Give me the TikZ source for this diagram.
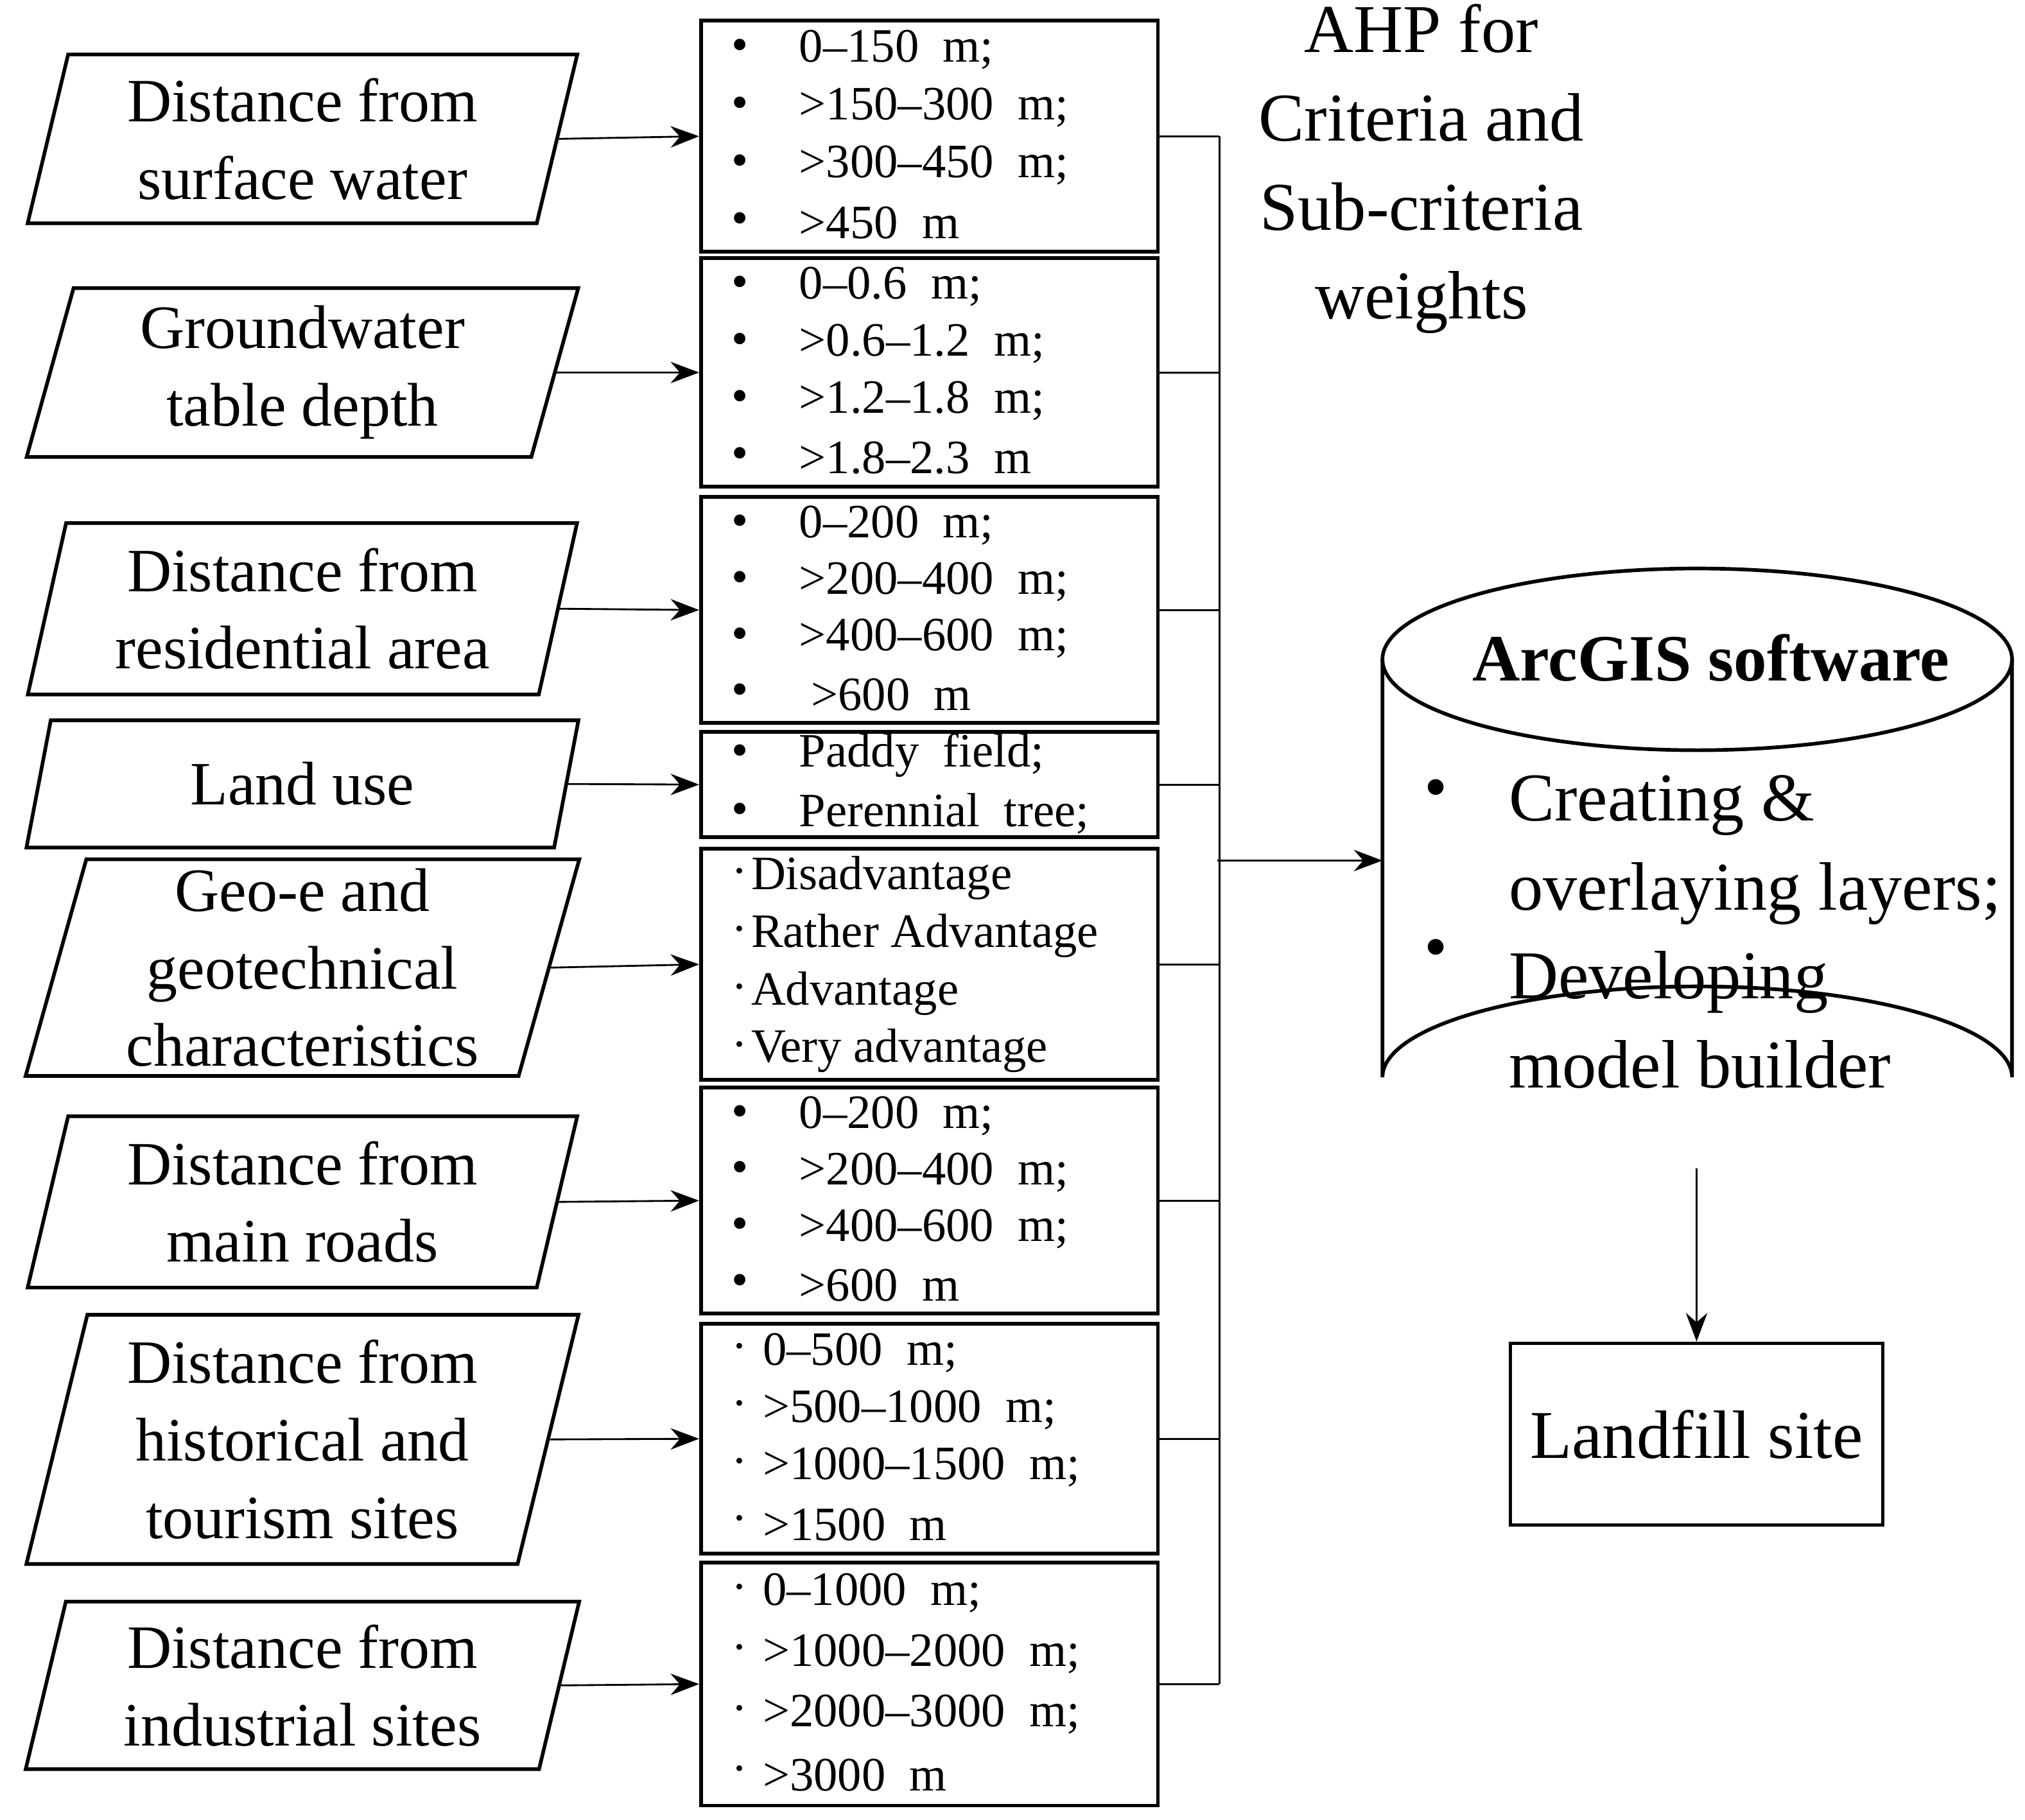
\documentclass[tikz,border=0pt]{standalone}
\usepackage{fontspec}
\setmainfont{Liberation Serif}
\usetikzlibrary{shapes.geometric,arrows.meta}
\begin{document}
\begin{tikzpicture}[x=0.1mm,y=-0.1mm,
  big/.style={font=\fontsize{13.5}{17}\selectfont, align=center},
  para/.style={draw, thick, shape=trapezium, trapezium left angle=76, trapezium right angle=104,
    trapezium stretches=true, minimum width=427*0.1mm, inner sep=0pt, big},
  sbox/.style={draw, thick, minimum width=352*0.1mm, inner sep=0pt},
  item/.style={font=\fontsize{10.5}{12}\selectfont, anchor=west, inner sep=0pt},
  arr/.style={-{Stealth[length=2.2mm]}, thin}]
\useasboundingbox (0,0) rectangle (1560,1402);
% criteria
\foreach \n/\ya/\yb/\txt in {1/42/172/{Distance from\\surface water}, 2/222/352/{Groundwater\\table depth},
  3/403/535/{Distance from\\residential area}, 4/555/653/{Land use},
  5/662/829/{Geo-e and\\geotechnical\\characteristics}, 6/860/992/{Distance from\\main roads},
  7/1013/1205/{Distance from\\historical and\\tourism sites}, 8/1234/1363/{Distance from\\industrial sites}}{
  \pgfmathsetmacro\h{(\yb-\ya)*0.1}
  \node[para, minimum height=\h mm] (c\n) at (233,{(\ya+\yb)/2}) {\txt};
}
% sub-criteria boxes
\foreach \n/\ya/\yb in {1/16/194, 2/199/375, 3/383/557, 4/564/645, 5/654/832, 6/838/1012, 7/1020/1197, 8/1204/1391}{
  \pgfmathsetmacro\h{(\yb-\ya)*0.1}
  \node[sbox, minimum height=\h mm] (b\n) at (716,{(\ya+\yb)/2}) {};
  \draw[arr] (c\n.east) -- (b\n.west);
  \draw (b\n.east) -- ++(46,0) coordinate (j\n);
}
% item lists
\newcommand\bl[5]{% box top, height, bullet, x of text, items
  \foreach \t [count=\i] in {#5}{
    \node[item] at (563,{#1+#2*(2*\i-1)/8}) {#3};
    \node[item] at (#4,{#1+#2*(2*\i-1)/8}) {\t};
  }}
\bl{16}{178}{•}{615}{0–150\ \ m;, >150–300\ \ m;, >300–450\ \ m;, >450\ \ m}
\bl{199}{176}{•}{615}{0–0.6\ \ m;, >0.6–1.2\ \ m;, >1.2–1.8\ \ m;, >1.8–2.3\ \ m}
\bl{383}{174}{•}{615}{0–200\ \ m;, >200–400\ \ m;, >400–600\ \ m;, \ >600\ \ m}
\node[item] at (563,582) {•}; \node[item] at (615,582) {Paddy\ \ field;};
\node[item] at (563,627) {•}; \node[item] at (615,627) {Perennial\ \ tree;};
\bl{654}{178}{·}{578}{Disadvantage, Rather Advantage, Advantage, Very advantage}
\bl{838}{174}{•}{615}{0–200\ \ m;, >200–400\ \ m;, >400–600\ \ m;, >600\ \ m}
\bl{1020}{177}{·}{587}{0–500\ \ m;, >500–1000\ \ m;, >1000–1500\ \ m;, >1500\ \ m}
\bl{1204}{187}{·}{587}{0–1000\ \ m;, >1000–2000\ \ m;, >2000–3000\ \ m;, >3000\ \ m}
% bus
\draw (j1) -- (j8);
\coordinate (bus) at (938,663);
% AHP label
\node[big, font=\fontsize{15}{19.5}\selectfont] (ahp) at (1095,130) {AHP for\\Criteria and\\Sub-criteria\\weights};
% cylinder
\draw[thick] (1065,508) -- (1065,830) arc[start angle=180, end angle=360, x radius=242.5, y radius=70]
  -- (1550,508);
\draw[thick] (1307.5,508) ellipse[x radius=242.5, y radius=70];
\node[font=\fontsize{14.5}{18}\selectfont\bfseries] (arc) at (1318,507) {ArcGIS software};
\node[font=\fontsize{14.5}{18}\selectfont, anchor=west] (d1) at (1085,612) {•};
\node[font=\fontsize{14.5}{18}\selectfont, anchor=west] (d2) at (1085,735) {•};
\node[font=\fontsize{15}{19.5}\selectfont, anchor=north west, align=left] (ctext) at (1150,585)
  {Creating \&\\overlaying layers;\\Developing\\model builder};
\coordinate (cylw) at (1065,663);
\coordinate (cyls) at (1307,900);
\draw[arr] (bus) -- (cylw);
\node[draw, thick, minimum width=28.7mm, minimum height=14mm, font=\fontsize{15}{19}\selectfont] (lf) at (1307,1105) {Landfill site};
\draw[arr] (cyls) -- (lf.north);
\end{tikzpicture}
\end{document}
